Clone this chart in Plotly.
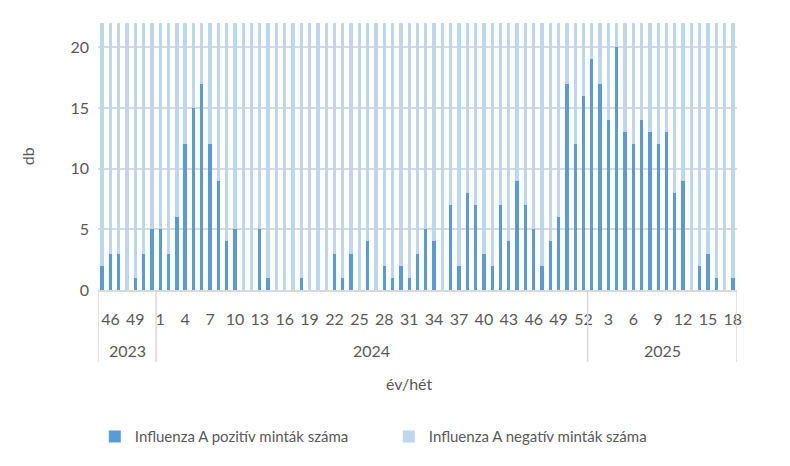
import plotly.graph_objects as go

# ---- data ----
years = ["2023", "2024", "2025"]
weeks_2023 = [45, 46, 47, 48, 49, 50, 51]
weeks_2024 = list(range(1, 53))
weeks_2025 = list(range(1, 19))

pos_2023 = [2, 3, 3, 0, 1, 3, 5]
pos_2024 = [5, 3, 6, 12, 15, 17, 12, 9, 4, 5, 0, 0, 5, 1, 0, 0, 0, 1, 0, 0,
            0, 3, 1, 3, 0, 4, 0, 2, 1, 2, 1, 3, 5, 4, 0, 7, 2, 8, 7, 3,
            2, 7, 4, 9, 7, 5, 2, 4, 6, 17, 12, 16]
pos_2025 = [19, 17, 14, 20, 13, 12, 14, 13, 12, 13, 8, 9, 0, 2, 3, 1, 0, 1]

neg_2023 = [28, 31, 35, 33, 38, 41, 36]
neg_2024 = [45, 52, 58, 61, 57, 49, 46, 40, 42, 38, 35, 33, 30, 29, 31, 27, 28, 26, 25, 27,
            24, 26, 25, 28, 27, 26, 29, 28, 30, 27, 29, 31, 30, 32, 34, 33, 36, 35, 38, 40,
            42, 41, 44, 46, 45, 48, 50, 52, 55, 60, 58, 62]
neg_2025 = [64, 59, 61, 57, 55, 52, 50, 48, 46, 44, 41, 39, 37, 35, 33, 31, 30, 28]

y_ticks = [0, 5, 10, 15, 20]

# ---- build ----
groups = [weeks_2023, weeks_2024, weeks_2025]
weeks = weeks_2023 + weeks_2024 + weeks_2025
pos = pos_2023 + pos_2024 + pos_2025
neg = neg_2023 + neg_2024 + neg_2025
x = list(range(len(weeks)))

DARK = "#5B9BD5"
LIGHT = "#BDD7EE"
GRID = "#D9D9D9"
TXT = "#595959"
FONT = "Lato"

fig = go.Figure()
fig.add_bar(x=x, y=pos, name="Influenza A pozitív minták száma",
            marker=dict(color=DARK, line=dict(width=0)))
fig.add_bar(x=x, y=neg, name="Influenza A negatív minták száma",
            marker=dict(color=LIGHT, line=dict(width=0)))

tickvals = x[1::3]
ticktext = [str(weeks[i]) for i in tickvals]

shapes = []
annotations = []
start = 0
bounds = [-0.5]
for yr, g in zip(years, groups):
    end = start + len(g)
    bounds.append(end - 0.5)
    annotations.append(dict(x=(start + end - 1) / 2, y=-0.228, xref="x", yref="paper",
                            text=yr, showarrow=False, yanchor="middle",
                            font=dict(size=16, color=TXT, family=FONT)))
    start = end
for b in bounds:
    shapes.append(dict(type="line", xref="x", yref="paper", x0=b, x1=b, y0=0, y1=-0.27,
                       line=dict(color=GRID, width=1.5)))

annotations.append(dict(x=0.487, y=-0.35, xref="paper", yref="paper", text="év/hét",
                        showarrow=False, yanchor="middle",
                        font=dict(size=16, color=TXT, family=FONT)))
annotations.append(dict(x=-0.11, y=0.5, xref="paper", yref="paper", text="db",
                        showarrow=False, textangle=-90, xanchor="center", yanchor="middle",
                        font=dict(size=16, color=TXT, family=FONT)))

fig.update_layout(
    width=790, height=466,
    margin=dict(l=98, r=53, t=23, b=176),
    paper_bgcolor="white", plot_bgcolor="white",
    barmode="stack", bargap=0.6,
    font=dict(family=FONT, size=16, color=TXT),
    shapes=shapes, annotations=annotations,
    legend=dict(orientation="h", x=-0.005, xanchor="left", y=-0.55, yanchor="middle",
                traceorder="normal",
                entrywidth=249, entrywidthmode="pixels",
                font=dict(size=15, color=TXT, family=FONT)),
    xaxis=dict(range=[-0.5, len(weeks) - 0.5], tickmode="array", tickvals=tickvals,
               ticktext=ticktext, showgrid=False, zeroline=False,
               showline=True, linecolor=GRID, linewidth=1.5,
               ticks="", ticklabelstandoff=14,
               tickfont=dict(size=16, color=TXT, family=FONT)),
    yaxis=dict(range=[0, 22], tickmode="array", tickvals=y_ticks,
               showgrid=True, gridcolor=GRID, gridwidth=1.5, zeroline=False,
               showline=False, ticks="", ticklabelstandoff=8,
               tickfont=dict(size=16, color=TXT, family=FONT)),
)

fig.write_html("out.html")
